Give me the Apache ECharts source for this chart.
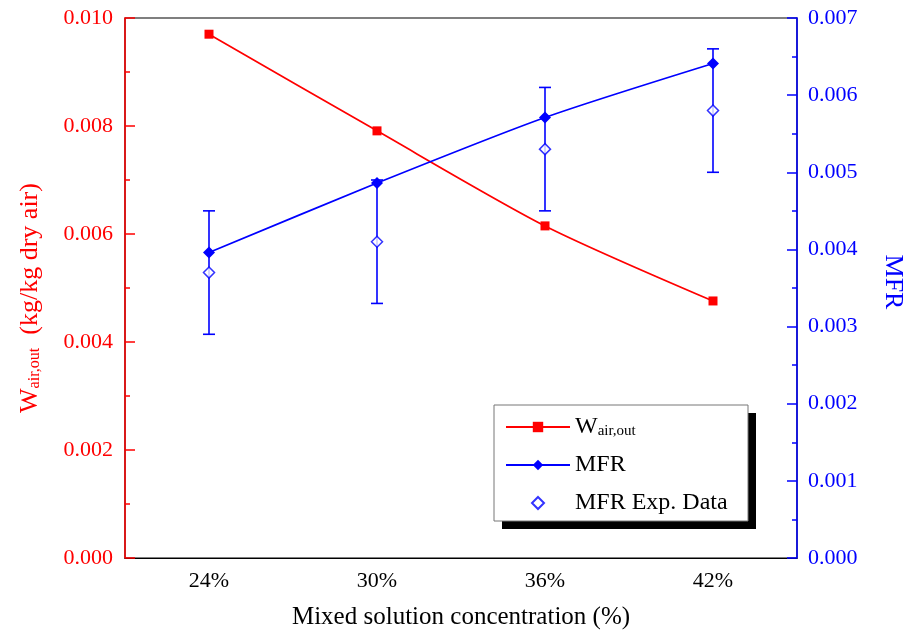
<!DOCTYPE html>
<html lang="en">
<head>
    <meta charset="UTF-8">
    <title>Wair,out and MFR</title>
    <script src="https://cdn.jsdelivr.net/npm/echarts@6.0.0/dist/echarts.min.js"></script>
    <style>
        html, body { margin: 0; padding: 0; background: #fff; }
        #chart { width: 907px; height: 630px; }
    </style>
</head>
<body>
<div id="chart"></div>
<script>
    // values
    var categories = ['24%', '30%', '36%', '42%'];
    var wAirOut = [0.00970, 0.00791, 0.00615, 0.00476];
    var mfrModel = [0.00396, 0.00486, 0.00571, 0.00641];
    var mfrExp = [0.00370, 0.00410, 0.00530, 0.00580];
    var mfrExpLow = [0.00290, 0.00330, 0.00450, 0.00500];
    var mfrExpHigh = [0.00450, 0.00490, 0.00610, 0.00660];

    var RED = '#ff0000';
    var BLUE = '#0000ff';
    var FONT = 'Liberation Serif';

    var errData = categories.map(function (c, i) {
        return [i, mfrExpLow[i], mfrExpHigh[i]];
    });

    var chart = echarts.init(document.getElementById('chart'));

    var option = {
        animation: false,
        textStyle: { fontFamily: FONT },
        grid: {
            left: 125, right: 110, top: 18, bottom: 72,
            outerBoundsMode: 'none',
            containLabel: false,
            show: true, borderColor: '#000', borderWidth: 1.2
        },
        // legend frame with its hard black shadow
        graphic: [{
            type: 'rect', z: 1,
            shape: { x: 502, y: 413, width: 254, height: 116 },
            style: { fill: '#000' }
        }, {
            type: 'rect', z: 2,
            shape: { x: 494, y: 405, width: 254, height: 116 },
            style: { fill: '#fff', stroke: '#777', lineWidth: 1 }
        }],
        legend: {
            orient: 'vertical',
            left: 494, top: 405,
            padding: [4, 10, 4, 11],
            itemGap: 14,
            itemWidth: 64,
            itemHeight: 13,
            z: 10,
            data: [
                { name: 'Wair,out' },
                { name: 'MFR' },
                { name: 'MFR Exp. Data', icon: 'path://M0,0 M64,12 M32,0 L38,6 L32,12 L26,6 Z' }
            ],
            formatter: function (name) {
                if (name === 'Wair,out') return '{m|W}{s|air,out}';
                return name;
            },
            textStyle: {
                fontFamily: FONT, fontSize: 24, color: '#000',
                rich: {
                    m: { fontFamily: FONT, fontSize: 24, lineHeight: 24, verticalAlign: 'top' },
                    s: { fontFamily: FONT, fontSize: 15, lineHeight: 15, padding: [15, 0, 0, 0], verticalAlign: 'bottom' }
                }
            }
        },
        xAxis: {
            type: 'category',
            data: categories,
            boundaryGap: true,
            name: 'Mixed solution concentration (%)',
            nameLocation: 'middle',
            nameGap: 47,
            nameTextStyle: { fontFamily: FONT, fontSize: 25, color: '#000' },
            axisLine: { lineStyle: { color: '#000', width: 1.2 } },
            axisTick: { alignWithLabel: true, inside: true, length: 9, lineStyle: { color: '#000', width: 1.2 } },
            axisLabel: { fontFamily: FONT, fontSize: 22, color: '#000', margin: 12 },
            splitLine: { show: false }
        },
        yAxis: [{
            type: 'value',
            min: 0, max: 0.010, interval: 0.002,
            position: 'left',
            name: '{m|W}{s|air,out}{m|  (kg/kg dry air)}',
            nameLocation: 'middle',
            nameGap: 82,
            nameTextStyle: {
                color: RED,
                padding: [0, 20, 0, 0],
                rich: {
                    m: { fontFamily: FONT, fontSize: 26, color: RED, lineHeight: 26, verticalAlign: 'top' },
                    s: { fontFamily: FONT, fontSize: 16, color: RED, lineHeight: 16, padding: [16, 0, 0, 0], verticalAlign: 'bottom' }
                }
            },
            axisLine: { show: true, lineStyle: { color: RED, width: 1.5 } },
            axisTick: { show: true, inside: true, length: 10, lineStyle: { color: RED, width: 1.5 } },
            minorTick: { show: true, splitNumber: 2, length: 5, lineStyle: { color: RED, width: 1.5 } },
            axisLabel: {
                fontFamily: FONT, fontSize: 22, color: RED, margin: 12,
                formatter: function (v) { return v.toFixed(3); }
            },
            splitLine: { show: false }
        }, {
            type: 'value',
            min: 0, max: 0.007, interval: 0.001,
            position: 'right',
            name: 'MFR',
            nameLocation: 'middle',
            nameRotate: -90,
            nameGap: 83,
            nameTextStyle: { fontFamily: FONT, fontSize: 26, color: BLUE, padding: [0, 12, 0, 0] },
            axisLine: { show: true, lineStyle: { color: BLUE, width: 1.5 } },
            axisTick: { show: true, inside: true, length: 10, lineStyle: { color: BLUE, width: 1.5 } },
            minorTick: { show: true, splitNumber: 2, length: 5, lineStyle: { color: BLUE, width: 1.5 } },
            axisLabel: {
                fontFamily: FONT, fontSize: 22, color: BLUE, margin: 11,
                formatter: function (v) { return v.toFixed(3); }
            },
            splitLine: { show: false }
        }],
        series: [{
            name: 'MFR error',
            type: 'custom',
            yAxisIndex: 1,
            z: 1,
            encode: { x: 0, y: [1, 2] },
            data: errData,
            renderItem: function (params, api) {
                var lo = api.coord([api.value(0), api.value(1)]);
                var hi = api.coord([api.value(0), api.value(2)]);
                var cap = 6;
                var st = { stroke: BLUE, lineWidth: 1.6 };
                return {
                    type: 'group',
                    children: [
                        { type: 'line', shape: { x1: lo[0], y1: lo[1], x2: hi[0], y2: hi[1] }, style: st },
                        { type: 'line', shape: { x1: lo[0] - cap, y1: lo[1], x2: lo[0] + cap, y2: lo[1] }, style: st },
                        { type: 'line', shape: { x1: hi[0] - cap, y1: hi[1], x2: hi[0] + cap, y2: hi[1] }, style: st }
                    ]
                };
            }
        }, {
            name: 'Wair,out',
            type: 'line',
            yAxisIndex: 0,
            z: 3,
            data: wAirOut,
            smooth: 0.25,
            symbol: 'rect',
            symbolSize: 9,
            lineStyle: { color: RED, width: 1.7 },
            itemStyle: { color: RED }
        }, {
            name: 'MFR',
            type: 'line',
            yAxisIndex: 1,
            z: 3,
            data: mfrModel,
            smooth: 0.25,
            symbol: 'diamond',
            symbolSize: [12, 12],
            lineStyle: { color: BLUE, width: 1.7 },
            itemStyle: { color: BLUE }
        }, {
            name: 'MFR Exp. Data',
            type: 'scatter',
            yAxisIndex: 1,
            z: 4,
            data: mfrExp,
            symbol: 'diamond',
            symbolSize: 11,
            itemStyle: { color: '#fff', borderColor: BLUE, borderWidth: 1.5 }
        }]
    };

    chart.setOption(option);
</script>
</body>
</html>
